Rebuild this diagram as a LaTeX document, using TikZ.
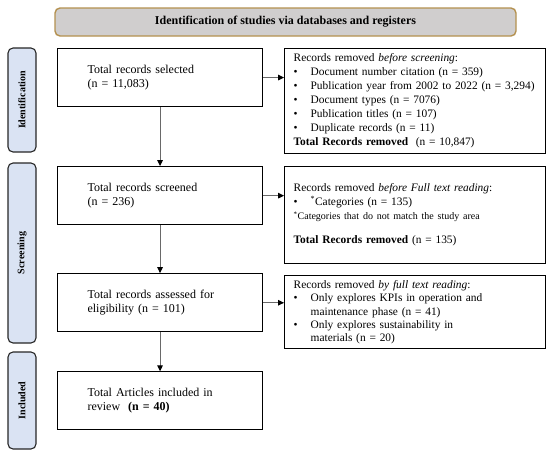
\documentclass[tikz,border=0pt]{standalone}
\usepackage{fontspec}
\setmainfont{Liberation Serif}
\usetikzlibrary{arrows.meta, positioning}
\definecolor{headGrey}{RGB}{208,206,206}
\definecolor{headGold}{RGB}{180,145,80}
\definecolor{phaseBlue}{RGB}{218,227,243}
\definecolor{linkGrey}{RGB}{105,105,105}
\newcommand{\bul}{\makebox[17pt][l]{\textbullet}}
\newcommand{\cnt}{\hspace*{17pt}}

\begin{document}
\begin{tikzpicture}[x=1pt, y=-1pt,
      every node/.style={font=\fontsize{12}{14}\selectfont},
      header/.style={rectangle, draw=headGold, fill=headGrey, rounded corners=5pt, line width=1.4pt, minimum width=461pt, minimum height=28pt, font=\fontsize{12}{14}\selectfont\bfseries},
      phase/.style={rectangle, draw=black!85, fill=phaseBlue, rounded corners=5pt, line width=1.1pt, rotate=90, minimum height=28pt, font=\fontsize{10}{12}\selectfont\bfseries},
      record/.style={rectangle, draw=black, line width=1.1pt, align=left, text width=145pt, inner xsep=30pt, minimum height=58pt, anchor=north west},
      removed/.style={rectangle, draw=black, line width=1.1pt, align=left, text width=243pt, inner xsep=9pt, inner ysep=2pt, font=\fontsize{11.4}{14}\selectfont},
      arrow/.style={-{Triangle[length=6pt, width=5.5pt, color=black, fill=black]}, line width=1.1pt, color=linkGrey}
    ]
      \useasboundingbox (0,0) rectangle (550,459);

      % Title bar and phase labels
      \node[header] (title) at (285.5,22) {Identification of studies via databases and registers};
      \node[phase, minimum width=104pt] (idPhase) at (22,100) {Identification};
      \node[phase, minimum width=180pt] (scrPhase) at (22,253) {Screening};
      \node[phase, minimum width=97pt] (incPhase) at (22,400.5) {Included};

      % Left column: records kept
      \node[record] (selected) at (57,48) {Total records selected\\(n = 11,083)};
      \node[record, below=59pt of selected] (screened) {Total records screened\\(n = 236)};
      \node[record, below=48pt of screened] (eligible) {Total records assessed for\\eligibility (n = 101)};
      \node[record, below=39pt of eligible] (included) {Total Articles included in\\review\ \ \textbf{(n = 40)}};

      % Right column: records removed
      \node[removed, minimum height=105pt, right=21pt of selected.north east, anchor=north west] (remScreen) {Records removed \textit{before screening}:\\
        \bul Document number citation (n = 359)\\
        \bul \mbox{Publication year from 2002 to 2022 (n = 3,294)}\\
        \bul Document types (n = 7076)\\
        \bul Publication titles (n = 107)\\
        \bul Duplicate records (n = 11)\\
        \textbf{Total Records removed}\ \ (n = 10,847)};
      \node[removed, minimum height=97pt, right=21pt of screened.north east, anchor=north west] (remFull) {Records removed \textit{before Full text reading}:\\
        \bul \textsuperscript{*}Categories (n = 135)\\
        {\fontsize{10}{12}\selectfont\textsuperscript{*}Categories that do not match the study area}\\[10pt]
        \textbf{Total Records removed} (n = 135)};
      \node[removed, minimum height=73pt, right=21pt of eligible.north east, anchor=north west, yshift=-2pt, font=\fontsize{11.4}{13.2}\selectfont] (remText) {Records removed \textit{by full text reading}:\\
        \bul Only explores KPIs in operation and\\
        \cnt maintenance phase (n = 41)\\
        \bul Only explores sustainability in\\
        \cnt materials (n = 20)};

      % Connecting arrows
      \draw[arrow] (selected) -- (screened);
      \draw[arrow] (screened) -- (eligible);
      \draw[arrow] (eligible) -- (included);
      \draw[arrow] (selected.east) -- (selected.east -| remScreen.west);
      \draw[arrow] (screened.east) -- (screened.east -| remFull.west);
      \draw[arrow] (eligible.east) -- (eligible.east -| remText.west);
    \end{tikzpicture}
\end{document}
